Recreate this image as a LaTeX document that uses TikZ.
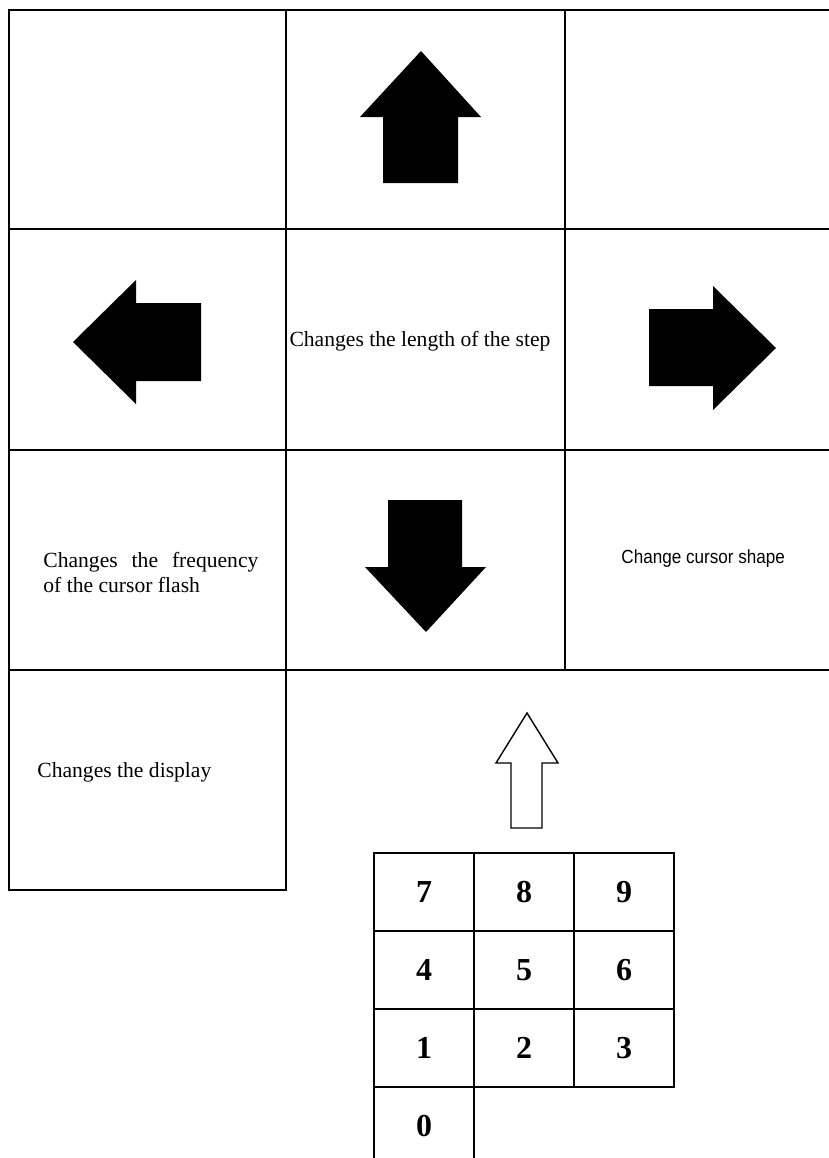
\documentclass[tikz,border=0pt]{standalone}
\usepackage{fontspec}
\setmainfont{Liberation Serif}
\newfontfamily\narrowsans[FakeStretch=0.9]{Liberation Sans}
\tikzset{rule line/.style={line width=1pt},
    keycell/.style={draw, line width=1pt, minimum width=50pt, minimum height=39pt,
        inner sep=0pt, font=\fontsize{16}{16}\selectfont\bfseries},
    note/.style={inner sep=0pt, font=\fontsize{10.8}{12.5}\selectfont}}

\begin{document}
\begin{tikzpicture}[x=0.5pt, y=-0.5pt]
    \useasboundingbox (0,0) rectangle (829,1158);
    \draw [rule line] (829,10) -- (9,10) -- (9,890) -- (286,890) -- (286,10);
    \draw [rule line] (565,10) -- (565,670);
    \foreach \y in {229,450,670}
        \draw [rule line] (9,\y) -- (829,\y);
    \fill (421,51) -- (481,117) -- (458,117) -- (458,183) -- (383,183) -- (383,117) -- (360,117) -- cycle;
    \fill (73,342) -- (136,280) -- (136,303) -- (201,303) -- (201,381) -- (136,381) -- (136,404) -- cycle;
    \fill (776,348) -- (713,286) -- (713,309) -- (649,309) -- (649,386) -- (713,386) -- (713,410) -- cycle;
    \fill (426,632) -- (486,567) -- (462,567) -- (462,500) -- (388,500) -- (388,567) -- (365,567) -- cycle;
    \node [note, anchor=base] (stepnote) at (420,346) {Changes the length of the step};
    \node [note, anchor=base west, text width=107.5pt, align=justify] (flashnote) at (43,567)
        {Changes the frequency of the cursor flash};
    \node [inner sep=0pt, anchor=base west, font=\narrowsans\fontsize{9.5}{11}\selectfont]
        (shapenote) at (621,563) {Change cursor shape};
    \node [note, anchor=base west] (displaynote) at (37,777) {Changes the display};
    \foreach \d/\c/\r in {7/0/0, 8/1/0, 9/2/0, 4/0/1, 5/1/1, 6/2/1, 1/0/2, 2/1/2, 3/2/2, 0/0/3}
        \node [keycell] (key\d) at ({424+100*\c},{892+78*\r}) {\d};
    \draw [line width=0.7pt] (527,713) -- (558,763) -- (542,763) -- (542,828) -- (511,828)
        -- (511,763) -- (496,763) -- cycle;
\end{tikzpicture}
\end{document}
